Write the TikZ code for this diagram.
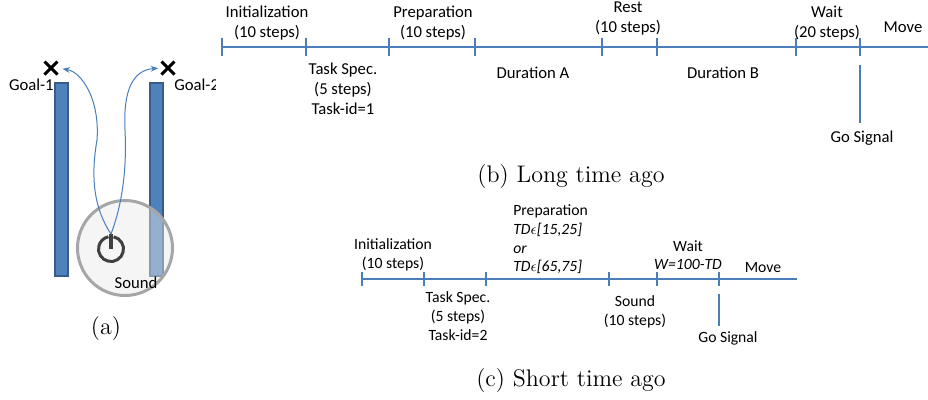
\documentclass[tikz,border=0pt]{standalone}
\usepackage{fontspec}
\newfontfamily\carlito{Carlito}
\usepackage{tikz}
\usetikzlibrary{arrows.meta,shapes.misc}

\definecolor{lineblue}{RGB}{74,126,187}
\definecolor{barblue}{RGB}{79,129,189}
\definecolor{bardark}{RGB}{56,93,138}
\definecolor{discgray}{RGB}{166,166,166}
\definecolor{discfill}{RGB}{232,232,232}
\definecolor{icongray}{RGB}{64,64,64}

\tikzset{
  lbl/.style={font=\carlito\fontsize{10}{12}\selectfont, inner sep=0pt, align=center},
  lblc/.style={font=\carlito\fontsize{9.4}{11.2}\selectfont, inner sep=0pt, align=center},
  captxt/.style={font=\fontsize{14.4}{17}\selectfont, inner sep=0pt},
  tline/.style={lineblue, line width=1.3pt},
  tlinec/.style={lineblue, line width=0.8pt},
  bar/.style={draw=bardark, fill=barblue, line width=0.9pt},
  disc/.style={circle, draw=discgray, line width=1.8pt, fill=discfill, fill opacity=0.45, minimum size=57pt, inner sep=0pt},
  icon/.style={icongray, line width=1.8pt},
  xmark/.style={cross out, draw=black, line width=1.8pt, minimum size=6pt, inner sep=0pt},
  route/.style={lineblue, line width=0.6pt, -{Stealth[length=4.5pt,width=3.5pt]}}
}

\begin{document}
\begin{tikzpicture}[x=0.6pt, y=-0.6pt]
  \useasboundingbox (0,0) rectangle (928,399);

  % (a) arena with the two goals
  \begin{scope}
    \clip (0,0) rectangle (215,399);
    \draw[bar] (55,83) rectangle (68,276);
    \draw[bar] (150,83) rectangle (163,276);
    \node[disc] (disc) at (125,248) {};
    \node[lbl] (sound) at (136,283) {Sound};
    \coordinate (pwr) at (111,249);
    \coordinate (pwrtop) at (111,234);
    \draw[icon] ([shift={(-78:12.5)}]pwr) arc[start angle=-78, end angle=258, radius=12.5];
    \draw[icon, line width=2.4pt] (pwrtop) -- (pwr);
    \node[xmark] (goal1) at (51,68) {};
    \node[xmark] (goal2) at (168,68) {};
    \node[lbl, anchor=east] (goal1lbl) at (54,85) {Goal-1};
    \node[lbl, anchor=west] (goal2lbl) at (174,85) {Goal-2};
    \draw[route, shorten >=3pt] (pwrtop) .. controls (95,210) and (90,180) .. (97,140)
      .. controls (100,100) and (82,72) .. (goal1.east);
    \draw[route, shorten >=2pt] (pwrtop) .. controls (122,205) and (127,170) .. (125,130)
      .. controls (123,90) and (133,70) .. (goal2.west);
  \end{scope}
  \node[captxt] (capa) at (106,329) {(a)};

  % (b) long time ago
  \foreach \x [count=\i] in {222,306,389,475,602,657,796,860}{
    \coordinate (tb\i) at (\x,47);
    \draw[tline] (tb\i) ++(0,-9) -- ++(0,18);
  }
  \coordinate (bend) at (928,47);
  \draw[tline] (tb1) -- (bend);
  \node[lbl] (initb) at (267,23.5) {Initialization\\(10 steps)};
  \node[lbl] (prepb) at (433,23.5) {Preparation\\(10 steps)};
  \node[lbl] (restb) at (628,18) {Rest\\(10 steps)};
  \node[lbl] (waitb) at (827,23.5) {Wait\\(20 steps)};
  \node[lbl] (moveb) at (903,27) {Move};
  \node[lbl] (taskb) at (343,89) {Task Spec.\\(5 steps)\\Task-id=1};
  \node[lbl] (dura) at (533,73) {Duration A};
  \node[lbl] (durb) at (723,73) {Duration B};
  \node[lbl] (gob) at (862,138) {Go Signal};
  \coordinate (gotopb) at (860,65);
  \draw[tline, shorten >=4.5pt] (gotopb) -- (gotopb |- gob.north);
  \node[captxt] (capb) at (571,177) {(b) Long time ago};

  % (c) short time ago
  \foreach \x [count=\i] in {362,424,486,609,657,719}{
    \coordinate (tc\i) at (\x,279);
    \draw[tlinec] (tc\i) ++(0,-7) -- ++(0,14);
  }
  \coordinate (cend) at (797,279);
  \draw[tlinec] (tc1) -- (cend);
  \node[lblc] (initc) at (393,255) {Initialization\\(10 steps)};
  \node[lblc, anchor=west, align=left] (prepc) at (513,239.5)
    {Preparation\\\textit{TD$\epsilon$[15,25]}\\\textit{or}\\\textit{TD$\epsilon$[65,75]}};
  \node[lblc] (waitc) at (688,255) {Wait\\\textit{W=100-TD}};
  \node[lblc] (movec) at (763,268) {Move};
  \node[lblc] (taskc) at (458,316) {Task Spec.\\(5 steps)\\Task-id=2};
  \node[lblc] (soundc) at (635,311.5) {Sound\\(10 steps)};
  \node[lblc] (goc) at (728,338) {Go Signal};
  \coordinate (gotopc) at (719,294);
  \draw[tlinec, shorten >=3pt] (gotopc) -- (gotopc |- goc.north);
  \node[captxt] (capc) at (571,381) {(c) Short time ago};
\end{tikzpicture}
\end{document}
